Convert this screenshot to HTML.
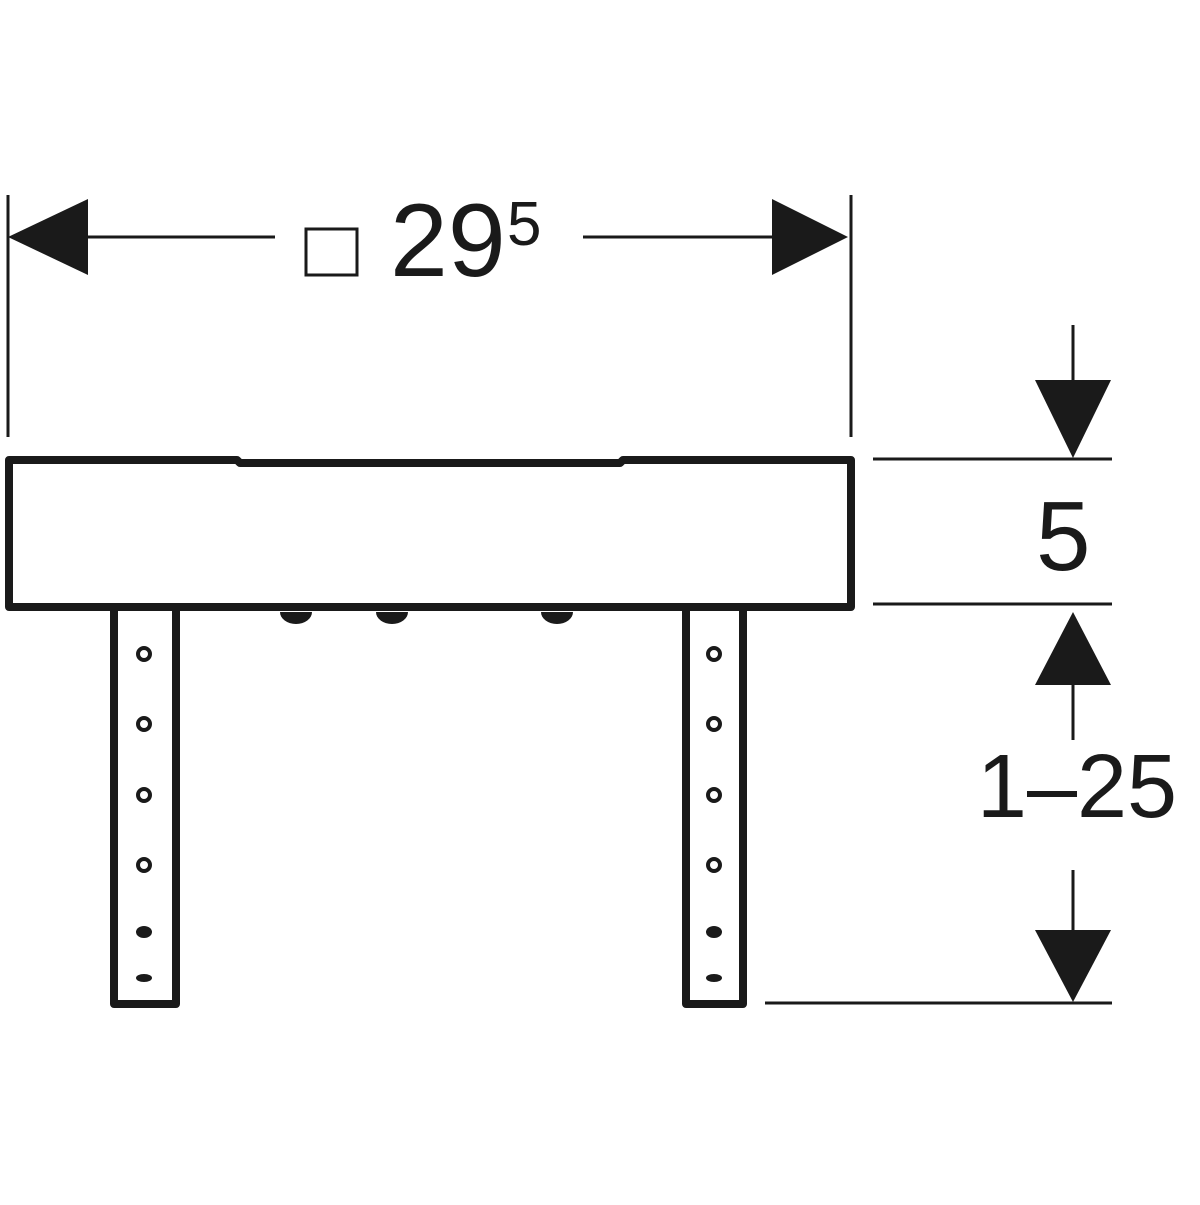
<!DOCTYPE html>
<html><head><style>body{margin:0;background:#fff}</style></head><body>
<svg width="1200" height="1200" viewBox="0 0 1200 1200" xmlns="http://www.w3.org/2000/svg">
<g stroke="#1a1a1a" fill="none">
<path d="M9,460 H237 L240,463 H620 L623,460 H851 V607 H9 Z" stroke-width="8" stroke-linejoin="round"/>
<path d="M114,611 V1004 H176 V611" stroke-width="8" stroke-linejoin="round"/>
<path d="M686,611 V1004 H743 V611" stroke-width="8" stroke-linejoin="round"/>
<g stroke-width="4">
<circle cx="144" cy="654" r="6"/><circle cx="144" cy="724" r="6"/><circle cx="144" cy="795" r="6"/><circle cx="144" cy="865" r="6"/>
<circle cx="714" cy="654" r="6"/><circle cx="714" cy="724" r="6"/><circle cx="714" cy="795" r="6"/><circle cx="714" cy="865" r="6"/>
</g>
<g stroke-width="3">
<line x1="8" y1="195" x2="8" y2="437"/><line x1="851" y1="195" x2="851" y2="437"/>
<line x1="85" y1="237" x2="275" y2="237"/><line x1="583" y1="237" x2="775" y2="237"/>
<line x1="873" y1="459" x2="1112" y2="459"/><line x1="873" y1="604" x2="1112" y2="604"/>
<line x1="765" y1="1003" x2="1112" y2="1003"/>
<line x1="1073" y1="325" x2="1073" y2="382"/><line x1="1073" y1="683" x2="1073" y2="740"/><line x1="1073" y1="870" x2="1073" y2="932"/>
</g>
<rect x="306" y="229" width="51" height="46" stroke-width="3"/>
</g>
<g fill="#1a1a1a">
<ellipse cx="144" cy="932" rx="8" ry="6"/><ellipse cx="144" cy="978" rx="8" ry="4"/>
<ellipse cx="714" cy="932" rx="8" ry="6"/><ellipse cx="714" cy="978" rx="8" ry="4"/>
<path d="M280,612 a16,12 0 0 0 32,0 Z"/><path d="M376,612 a16,12 0 0 0 32,0 Z"/><path d="M541,612 a16,12 0 0 0 32,0 Z"/>
<polygon points="8,237 88,199 88,275"/>
<polygon points="848,237 772,199 772,275"/>
<polygon points="1073,458 1035,380 1111,380"/>
<polygon points="1073,612 1035,685 1111,685"/>
<polygon points="1073,1002 1035,930 1111,930"/>
</g>
<g font-family="Liberation Sans, sans-serif" fill="#1a1a1a">
<text x="390" y="276" font-size="104">29</text>
<text x="507" y="245" font-size="62">5</text>
<text x="1036" y="570" font-size="98">5</text>
<text x="1077" y="817" font-size="90" text-anchor="middle">1–25</text>
</g>
</svg>
</body></html>
